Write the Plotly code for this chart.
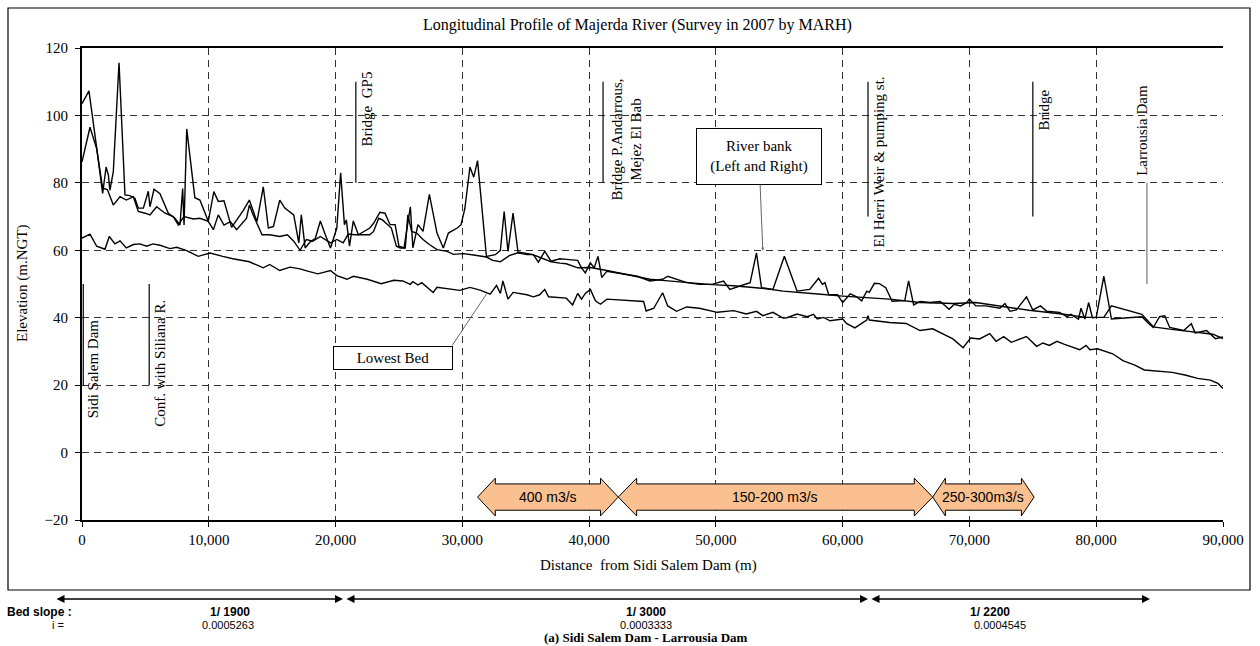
import plotly.graph_objects as go

# ---------------- data (distance in km from Sidi Salem Dam, elevation m.NGT) ----------------
bank_left_km = [0.0, 0.55, 1.1, 1.63, 1.9, 2.08, 2.2, 2.47, 2.92, 3.39, 3.78, 4.18, 4.44, 4.84, 5.23, 5.36,
                5.68, 6.15, 6.81, 7.33, 7.73, 7.94, 8.05, 8.26, 8.9, 9.3, 9.96, 10.4, 10.75, 11.2, 11.8, 12.7,
                13.2, 13.8, 14.3, 14.7, 15.1, 15.6, 16.0, 16.7, 17.1, 17.3, 17.6, 18.0, 18.4, 18.8, 19.2, 19.6,
                20.1, 20.4, 20.7, 20.85, 21.1, 21.4, 21.8, 22.7, 23.0, 23.5, 23.9, 24.3, 24.7, 25.0, 25.4, 25.9,
                26.1, 26.5, 26.9, 27.4, 28.0, 28.5, 28.9, 29.6, 29.9, 30.2, 30.6, 30.9, 31.2, 31.5, 31.9, 32.6,
                33.0, 33.3, 33.6, 34.0, 34.4, 35.1, 35.6, 36.0, 36.5, 37.0, 37.7, 38.2, 39.1, 39.4, 39.7, 40.1,
                40.4, 40.7, 41.0, 41.4, 42.3, 43.0, 43.8, 44.8, 45.8, 46.2, 46.9, 47.7, 48.7, 49.7, 50.6, 51.1,
                51.9, 52.7, 53.2, 53.6, 54.5, 55.4, 56.4, 57.4, 58.1, 58.4, 58.6, 58.9, 59.6, 60.0, 60.6, 61.1,
                61.5, 61.9, 62.1, 62.5, 62.9, 63.4, 63.9, 64.9, 65.2, 65.6, 66.1, 66.9, 67.7, 68.4, 68.8, 69.3,
                69.8, 70.0, 70.5, 71.3, 72.4, 72.8, 73.2, 73.7, 74.5, 75.0, 75.6, 76.1, 77.1, 77.7, 78.0, 78.6,
                78.8, 79.1, 79.4, 79.7, 80.0, 80.6, 81.2, 83.6, 84.2, 84.5, 85.0, 85.4, 85.8, 86.9, 87.5, 87.8,
                88.7, 89.0, 89.4, 90.0]
bank_left_el = [103.5, 107.3, 92.0, 76.9, 84.7, 82.3, 77.8, 83.3, 115.6, 76.4, 76.2, 75.4, 72.5, 72.5, 77.5, 72.9,
                78.1, 76.8, 71.0, 69.5, 67.5, 78.3, 67.5, 96.0, 75.6, 74.9, 68.6, 77.4, 74.5, 74.7, 66.8, 71.7,
                74.9, 68.5, 78.8, 66.6, 67.1, 74.9, 72.5, 70.5, 62.2, 70.5, 60.7, 62.5, 63.5, 68.7, 64.5, 60.7,
                66.6, 83.0, 67.6, 69.0, 61.2, 68.7, 64.6, 66.6, 68.0, 71.3, 71.0, 67.6, 67.6, 61.2, 60.7, 72.9,
                60.7, 67.6, 65.6, 76.6, 65.1, 60.7, 65.1, 66.6, 67.6, 72.4, 84.7, 81.7, 86.6, 74.4, 58.2, 58.7,
                60.0, 71.5, 59.7, 71.0, 59.2, 58.7, 58.7, 56.5, 59.7, 56.8, 57.5, 57.3, 57.0, 54.8, 53.3, 56.3,
                54.8, 58.2, 51.9, 53.8, 53.3, 52.8, 52.3, 50.9, 51.4, 52.3, 51.4, 50.4, 49.9, 49.9, 50.9, 48.4,
                49.4, 50.4, 59.2, 48.9, 48.4, 58.2, 47.9, 48.4, 51.7, 49.9, 50.4, 46.8, 46.8, 44.5, 47.1, 46.2,
                45.0, 47.9, 47.5, 50.2, 50.1, 48.9, 44.9, 45.1, 50.9, 43.8, 44.8, 44.5, 44.8, 42.5, 44.0, 43.5,
                44.5, 45.5, 43.5, 43.5, 42.8, 44.2, 41.9, 42.3, 46.2, 42.3, 43.5, 41.9, 41.6, 40.3, 41.0, 39.6,
                42.8, 39.6, 44.5, 40.0, 40.1, 52.3, 39.6, 40.3, 38.1, 37.1, 40.3, 40.6, 37.1, 36.2, 38.2, 35.5,
                36.2, 35.2, 33.8, 34.3]

bank_right_km = [0.0, 0.63, 1.16, 1.63, 2.0, 2.47, 3.0, 3.5, 4.05, 4.44, 4.97, 5.36, 5.89, 6.55, 7.2, 7.6,
                 8.04, 8.78, 9.3, 9.96, 10.36, 10.75, 11.2, 11.7, 12.2, 12.98, 13.2, 13.5, 14.2, 14.8, 15.6, 16.2,
                 16.7, 17.2, 17.7, 18.2, 18.8, 19.6, 20.1, 20.6, 21.0, 21.5, 22.2, 22.7, 23.0, 23.4, 23.7, 24.1,
                 24.4, 24.8, 25.1, 25.5, 25.7, 26.0, 26.4, 26.9, 27.4, 28.0, 28.8, 29.3, 30.1, 30.9, 31.9, 32.4,
                 33.0, 33.7, 34.5, 35.5, 36.1, 37.0, 37.7, 38.2, 39.1, 40.1, 41.4, 43.0, 44.8, 46.0, 47.7, 49.7,
                 51.4, 52.8, 54.0, 55.3, 56.6, 57.8, 60.0, 62.0, 63.7, 66.1, 68.7, 70.5, 72.4, 74.7, 77.3, 79.2,
                 80.6, 81.2, 83.6, 84.5, 85.8, 87.5, 89.2, 90.0]
bank_right_el = [86.2, 96.5, 90.1, 78.4, 78.0, 73.4, 75.9, 74.9, 75.9, 71.5, 71.0, 70.5, 72.9, 71.0, 70.0, 67.5,
                 70.0, 69.3, 69.5, 68.6, 66.1, 70.5, 67.5, 68.5, 66.1, 69.5, 73.4, 70.5, 64.6, 64.6, 64.1, 64.6,
                 62.7, 60.0, 63.2, 62.7, 64.1, 62.2, 63.2, 62.2, 64.8, 64.6, 64.6, 64.6, 65.6, 69.5, 69.0, 67.6,
                 66.6, 61.2, 60.7, 60.7, 70.5, 65.6, 65.1, 63.2, 61.7, 60.2, 59.7, 58.8, 59.0, 58.6, 58.0, 57.0,
                 56.6, 58.4, 59.4, 58.8, 57.9, 56.6, 56.2, 56.0, 54.8, 54.9, 54.0, 52.8, 51.4, 51.0, 50.4, 49.8,
                 49.5, 49.1, 48.6, 47.9, 47.4, 47.1, 46.4, 46.0, 45.5, 44.5, 44.2, 44.5, 43.5, 42.2, 41.1, 40.1,
                 40.1, 43.5, 41.0, 37.3, 36.6, 35.8, 35.1, 33.8]

bed_km = [0.0, 0.63, 1.16, 1.81, 2.15, 2.6, 3.0, 3.5, 4.05, 4.57, 5.1, 5.6, 6.15, 6.94, 7.47, 8.26,
          9.17, 10.1, 11.1, 11.9, 13.2, 14.3, 14.8, 15.6, 16.4, 17.2, 17.8, 18.6, 19.6, 20.1, 20.9, 21.4,
          22.5, 23.6, 24.6, 25.3, 25.9, 26.1, 26.5, 26.8, 27.7, 28.0, 29.8, 30.6, 31.4, 32.2, 32.7, 33.0,
          33.2, 33.6, 34.0, 35.1, 35.6, 36.1, 36.5, 36.8, 38.2, 38.7, 39.1, 39.4, 39.7, 40.1, 40.5, 40.9,
          41.4, 43.0, 44.3, 44.5, 45.1, 45.8, 46.2, 46.9, 47.7, 48.7, 50.1, 51.4, 52.4, 53.2, 53.7, 54.5,
          55.3, 55.6, 56.4, 57.2, 57.7, 58.0, 58.5, 59.0, 60.0, 60.3, 60.96, 61.5, 61.9, 62.0, 62.1, 63.7,
          65.0, 66.1, 67.1, 67.9, 68.7, 69.5, 70.1, 70.8, 71.6, 72.1, 72.7, 73.3, 74.5, 75.3, 75.8, 76.3,
          76.9, 77.5, 78.2, 78.7, 79.2, 79.5, 80.1, 81.3, 82.1, 83.0, 83.8, 85.0, 86.0, 87.0, 88.0, 89.0,
          89.6, 90.0]
bed_el = [63.6, 64.8, 61.2, 60.3, 64.1, 61.9, 62.8, 60.7, 61.7, 61.9, 61.2, 61.9, 61.5, 60.5, 60.9, 59.9,
          58.2, 59.2, 58.2, 57.5, 56.6, 54.8, 55.8, 54.0, 55.0, 54.5, 53.8, 53.0, 54.0, 52.5, 51.4, 52.3,
          51.4, 50.1, 51.1, 50.9, 49.9, 50.7, 49.7, 50.4, 47.5, 49.0, 48.1, 49.0, 48.2, 47.0, 49.6, 47.2,
          50.9, 45.5, 47.5, 46.8, 46.2, 46.8, 48.4, 46.2, 45.8, 43.8, 47.2, 45.5, 47.2, 48.4, 45.0, 44.0,
          45.5, 45.0, 44.8, 42.0, 42.8, 47.4, 43.5, 41.9, 43.2, 42.8, 41.6, 42.1, 41.1, 41.9, 40.6, 41.6,
          39.9, 40.0, 41.1, 40.3, 41.0, 39.6, 40.1, 39.1, 39.6, 38.3, 37.0, 38.3, 39.3, 40.6, 39.3, 38.6,
          38.3, 36.2, 36.7, 35.2, 33.7, 31.1, 34.0, 33.7, 35.3, 33.0, 34.4, 32.7, 34.4, 31.5, 32.5, 31.8,
          33.0, 32.1, 31.3, 30.5, 31.8, 30.5, 30.8, 29.3, 27.3, 26.0, 24.5, 24.0, 23.8, 23.0, 22.0, 21.5,
          20.5, 19.0]

x_tick_values = [0, 10000, 20000, 30000, 40000, 50000, 60000, 70000, 80000, 90000]
y_tick_values = [-20, 0, 20, 40, 60, 80, 100, 120]

marker_labels = ["Sidi Salem Dam", "Conf. with Siliana R.", "Bridge  GP5",
                 "Bridge P.Andarrous,<br>Mejez El Bab", "El Herri Weir &amp; pumping st.",
                 "Bridge", "Larrousia Dam"]
marker_line_km = [0.1, 5.3, 21.6, 41.1, 62.0, 75.0, 84.0]
marker_line_y0 = [20, 20, 80, 80, 70, 70, 50]
marker_line_y1 = [50, 50, 110, 110, 110, 110, 80]
marker_text_km = [0.87, 6.15, 22.5, 43.0, 62.9, 75.9, 83.6]
marker_text_y = [24.7, 26.6, 101.8, 92.9, 86.2, 101.5, 95.7]

flow_labels = ["400 m3/s", "150-200 m3/s", "250-300m3/s"]
flow_start_km = [31.2, 42.3, 67.1]
flow_end_km = [42.3, 67.1, 75.1]
flow_head_km = [1.4, 1.45, 1.0]

slope_labels = ["1/ 1900", "1/ 3000", "1/ 2200"]
slope_values = ["0.0005263", "0.0003333", "0.0004545"]

# ---------------- layout helpers ----------------
W, H = 1260, 646
L, R, T, B = 82, 1223, 48, 520
SERIF = "Liberation Serif"
SANS = "Liberation Sans"


def px_x(px):
    return (px - L) / (R - L)


def px_y(py):
    return (B - py) / (B - T)


def m(km_list):
    return [v * 1000 for v in km_list]


def paper_text(px, py, text, family, size, angle=0, xanchor="center"):
    return dict(x=px_x(px), y=px_y(py), xref="paper", yref="paper", text=text, showarrow=False,
                xanchor=xanchor, yanchor="middle", textangle=angle,
                font=dict(family=family, size=size, color="black"))


fig = go.Figure()
line_style = dict(color="black", width=1.4)
fig.add_trace(go.Scatter(x=m(bank_right_km), y=bank_right_el, mode="lines", line=line_style,
                         name="River bank (Right)", showlegend=False))
fig.add_trace(go.Scatter(x=m(bank_left_km), y=bank_left_el, mode="lines", line=line_style,
                         name="River bank (Left)", showlegend=False))
fig.add_trace(go.Scatter(x=m(bed_km), y=bed_el, mode="lines", line=line_style,
                         name="Lowest Bed", showlegend=False))

shapes = []
annotations = []

# outer frame
shapes.append(dict(type="rect", xref="paper", yref="paper", x0=px_x(8), x1=px_x(1250),
                   y0=px_y(590), y1=px_y(8), line=dict(color="black", width=1.2), layer="below"))

# marker lines and labels
for i, lab in enumerate(marker_labels):
    col = "#777777" if i == len(marker_labels) - 1 else "black"
    shapes.append(dict(type="line", xref="x", yref="y", x0=marker_line_km[i] * 1000, x1=marker_line_km[i] * 1000,
                       y0=marker_line_y0[i], y1=marker_line_y1[i], line=dict(color=col, width=1.2)))
    annotations.append(dict(x=marker_text_km[i] * 1000, y=marker_text_y[i], xref="x", yref="y", text=lab,
                            showarrow=False, textangle=-90, align="center",
                            xanchor="center", yanchor="middle",
                            font=dict(family=SERIF, size=15, color="black")))

# flow arrows
yc, hh, sh = -13.2, 5.6, 3.9
for lab, s, e, h in zip(flow_labels, flow_start_km, flow_end_km, flow_head_km):
    S, E, Hh = s * 1000, e * 1000, h * 1000
    pts = [(S, yc), (S + Hh, yc + hh), (S + Hh, yc + sh), (E - Hh, yc + sh), (E - Hh, yc + hh), (E, yc),
           (E - Hh, yc - hh), (E - Hh, yc - sh), (S + Hh, yc - sh), (S + Hh, yc - hh)]
    path = "M " + " L ".join(f"{px},{py}" for px, py in pts) + " Z"
    shapes.append(dict(type="path", xref="x", yref="y", path=path, fillcolor="#FAC090",
                       line=dict(color="black", width=1)))
    annotations.append(dict(x=(S + E) / 2, y=yc, xref="x", yref="y", text=lab, showarrow=False,
                            xanchor="center", yanchor="middle",
                            font=dict(family=SANS, size=14, color="black")))

# callout boxes
annotations.append(dict(x=53.7 * 1000, y=59.9, xref="x", yref="y", ax=53.4 * 1000, ay=87.8,
                        axref="x", ayref="y", text="River bank<br>(Left and Right)", showarrow=True,
                        arrowhead=2, arrowsize=0.6, arrowwidth=1, arrowcolor="#666666",
                        bgcolor="white", bordercolor="black", borderwidth=1, borderpad=9, width=106,
                        font=dict(family=SERIF, size=15, color="black")))
shapes.append(dict(type="line", xref="x", yref="y", x0=29.2 * 1000, y0=31.8, x1=31.9 * 1000, y1=47.0,
                   line=dict(color="#666666", width=1)))
annotations.append(dict(x=24.5 * 1000, y=28.2, xref="x", yref="y", text="Lowest Bed", showarrow=False,
                        xanchor="center", yanchor="middle",
                        bgcolor="white", bordercolor="black", borderwidth=1, borderpad=3, width=112,
                        font=dict(family=SERIF, size=15, color="black")))

# chart title and axis titles
annotations.append(paper_text(637, 25, "Longitudinal Profile of Majerda River (Survey in 2007 by MARH)",
                              SERIF, 16))
annotations.append(paper_text(648, 565, "Distance\u00a0 from Sidi Salem Dam (m)", SERIF, 15))
annotations.append(paper_text(22, 284, "Elevation (m.NGT)", SERIF, 15, angle=-90))

# bed slope band below frame
arrow_px = [(55, 343), (345, 868), (870, 1150)]
for a0, a1 in arrow_px:
    annotations.append(dict(x=px_x(a1), y=px_y(599), xref="paper", yref="paper", text="",
                            ax=-(a1 - a0), ay=0, showarrow=True, arrowside="end+start",
                            arrowhead=2, startarrowhead=2, arrowsize=1, startarrowsize=1,
                            arrowwidth=1.6, arrowcolor="black"))
annotations.append(paper_text(5, 612, "<b>Bed slope :</b>", SANS, 12, xanchor="left"))
annotations.append(paper_text(58, 625, "i =", SANS, 11))
for lab, val, cx, vx in zip(slope_labels, slope_values, [230, 646, 990], [228, 646, 1000]):
    annotations.append(paper_text(cx, 612, f"<b>{lab}</b>", SANS, 12))
    annotations.append(paper_text(vx, 625, val, SANS, 11))
annotations.append(paper_text(646, 637, "<b>(a) Sidi Salem Dam - Larrousia Dam</b>", SERIF, 13))

grid = dict(showgrid=True, gridcolor="#333333", gridwidth=1, griddash="7px,5px")
fig.update_layout(
    width=W, height=H,
    margin=dict(l=L, r=W - R, t=T, b=H - B, pad=0),
    paper_bgcolor="white", plot_bgcolor="white",
    showlegend=False,
    shapes=shapes, annotations=annotations,
    xaxis=dict(range=[0, 90000], tickvals=x_tick_values, tickformat=",d", ticks="outside", ticklen=5,
               tickcolor="black", showline=True, linecolor="black", linewidth=2, mirror=True,
               zeroline=False, tickfont=dict(family=SERIF, size=15, color="black"), **grid),
    yaxis=dict(range=[-20, 120], tickvals=y_tick_values, ticks="outside", ticklen=5, tickcolor="black",
               showline=True, linecolor="black", linewidth=2, zeroline=False, ticklabelstandoff=4,
               tickfont=dict(family=SERIF, size=15, color="black"), **grid),
)

fig.write_html("out.html")
